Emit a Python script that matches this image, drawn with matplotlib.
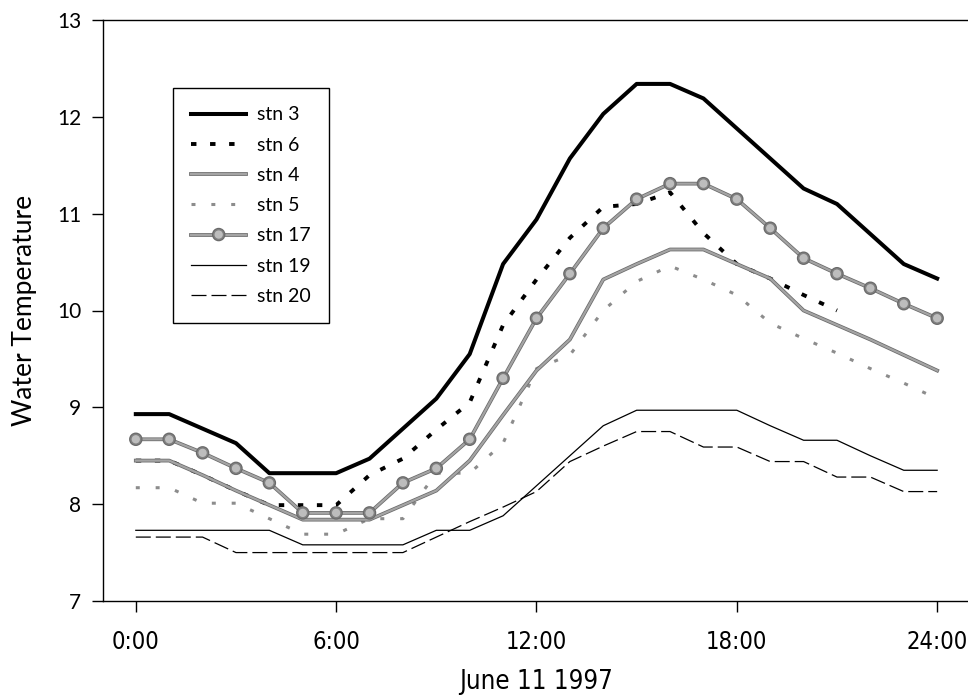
import matplotlib
matplotlib.use("Agg")
import matplotlib.pyplot as plt
import matplotlib.patheffects as pe
from matplotlib import font_manager

# hourly readings, 0:00 .. 24:00
hours = list(range(25))
stn3 = [8.93, 8.93, 8.78, 8.63, 8.32, 8.32, 8.32, 8.47, 8.78, 9.09, 9.55, 10.48, 10.94,
        11.57, 12.03, 12.34, 12.34, 12.19, 11.88, 11.57, 11.26, 11.10, 10.79, 10.48, 10.33]
stn6 = [8.45, 8.45, 8.30, 8.14, 7.99, 7.99, 7.99, 8.30, 8.47, 8.77, 9.05, 9.85, 10.32,
        10.75, 11.07, 11.10, 11.22, 10.80, 10.48, 10.33, 10.16, 10.00]
stn4 = [8.45, 8.45, 8.30, 8.14, 7.99, 7.84, 7.84, 7.84, 7.99, 8.14, 8.45, 8.92, 9.38,
        9.70, 10.32, 10.48, 10.63, 10.63, 10.48, 10.33, 10.00, 9.85, 9.70, 9.54, 9.38]
stn5 = [8.17, 8.17, 8.01, 8.01, 7.85, 7.69, 7.69, 7.85, 7.85, 8.32, 8.32, 8.63, 9.40,
        9.54, 10.00, 10.30, 10.46, 10.32, 10.16, 9.87, 9.71, 9.56, 9.40, 9.25, 9.09]
stn17 = [8.67, 8.67, 8.53, 8.37, 8.22, 7.91, 7.91, 7.91, 8.22, 8.37, 8.67, 9.30, 9.92,
         10.38, 10.85, 11.15, 11.31, 11.31, 11.15, 10.85, 10.54, 10.38, 10.23, 10.07, 9.92]
stn19 = [7.73, 7.73, 7.73, 7.73, 7.73, 7.58, 7.58, 7.58, 7.58, 7.73, 7.73, 7.88, 8.19,
         8.50, 8.81, 8.97, 8.97, 8.97, 8.97, 8.81, 8.66, 8.66, 8.50, 8.35, 8.35]
stn20 = [7.66, 7.66, 7.66, 7.50, 7.50, 7.50, 7.50, 7.50, 7.50, 7.66, 7.82, 7.97, 8.13,
         8.44, 8.60, 8.75, 8.75, 8.59, 8.59, 8.44, 8.44, 8.28, 8.28, 8.13, 8.13]

xticks = [0, 6, 12, 18, 24]
xticklabels = ["0:00", "6:00", "12:00", "18:00", "24:00"]
yticks = [7, 8, 9, 10, 11, 12, 13]

installed = {f.name for f in font_manager.fontManager.ttflist}
main_font = "Lato" if "Lato" in installed else "DejaVu Sans"

# a condensed face for the time axis, if one is around
narrow = None
for f in font_manager.fontManager.ttflist:
    fn = f.fname.lower()
    if ("condensed" in fn or "narrow" in fn) and f.style == "normal" and f.weight in (400, "normal") \
            and "bold" not in fn and "oblique" not in fn and "italic" not in fn:
        narrow = f.fname
        break


def xfont(size):
    if narrow:
        return font_manager.FontProperties(fname=narrow, size=size)
    return font_manager.FontProperties(family=main_font, size=size)


W, H = 968, 698
fig = plt.figure(figsize=(W / 100, H / 100), dpi=100)
ax = fig.add_axes([103.3 / W, 1 - 601 / H, (W - 103.3) / W, (601 - 20) / H])

gray_fx = [pe.Stroke(linewidth=2.7, foreground="#6a6a6a"), pe.Normal()]

l19, = ax.plot(hours, stn19, color="black", lw=0.9, label="stn 19")
l20, = ax.plot(hours, stn20, color="black", lw=0.9, dashes=(12, 4), label="stn 20")
l5, = ax.plot(hours, stn5, color="#8c8c8c", lw=2.2, dashes=(1.3, 5.2), label="stn 5")
l6, = ax.plot(hours[:len(stn6)], stn6, color="black", lw=2.8, dashes=(1.4, 3.5), label="stn 6")
l4, = ax.plot(hours, stn4, color="#a4a4a4", lw=1.6, path_effects=gray_fx, label="stn 4")
l17, = ax.plot(hours, stn17, color="#a4a4a4", lw=1.6, path_effects=gray_fx,
               marker="o", ms=7, mfc="#bdbdbd", mec="#808080", mew=1.0, label="stn 17")
l3, = ax.plot(hours, stn3, color="black", lw=2.9, label="stn 3")

ax.set_xlim((103.3 - 135.8) / 33.39, (W - 135.8) / 33.39)
ax.set_ylim(7, 13)
ax.spines["right"].set_visible(False)
for s in ("left", "bottom", "top"):
    ax.spines[s].set_linewidth(1.0)

ax.set_xticks(xticks)
ax.set_xticklabels(xticklabels, fontproperties=xfont(17))
ax.set_yticks(yticks)
ax.set_yticklabels([str(v) for v in yticks], fontfamily=main_font, fontsize=15)
ax.tick_params(axis="x", direction="out", length=8, width=1.0, pad=13)
ax.tick_params(axis="y", direction="out", length=8, width=1.0, pad=8)

ax.set_ylabel("Water Temperature", fontfamily=main_font, fontsize=19, labelpad=14)
ax.set_xlabel("June 11 1997", fontproperties=xfont(18.5), labelpad=11)

leg = ax.legend(handles=[l3, l6, l4, l5, l17, l19, l20],
                loc="upper left", bbox_to_anchor=(173 / W, 1 - 88 / H),
                bbox_transform=fig.transFigure, borderaxespad=0,
                frameon=True, fancybox=False, framealpha=1, edgecolor="black",
                handlelength=2.8, handletextpad=0.55, labelspacing=0.68,
                borderpad=0.95, prop={"family": main_font, "size": 14})
leg.get_frame().set_linewidth(1.0)

fig.savefig("out.png", dpi=100)
